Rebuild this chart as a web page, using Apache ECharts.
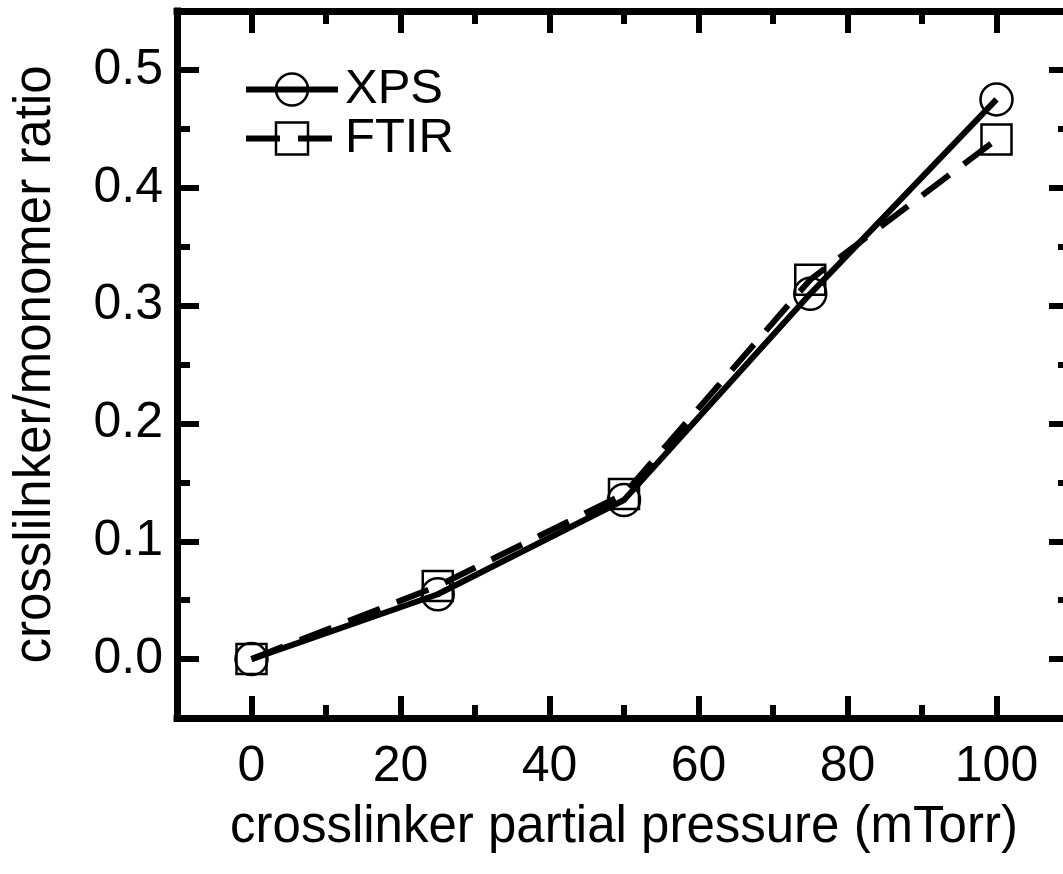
<!DOCTYPE html>
<html>
<head>
<meta charset="utf-8">
<script src="https://cdn.jsdelivr.net/npm/echarts@6/dist/echarts.min.js"></script>
<style>
html,body{margin:0;padding:0;background:#fff;}
#chart{width:1063px;height:874px;}
</style>
</head>
<body>
<div id="chart"></div>
<script>
// Data
const pressure = [0, 25, 50, 75, 100];
const xpsValues = [0.000, 0.055, 0.135, 0.310, 0.475];
const ftirValues = [0.000, 0.062, 0.140, 0.322, 0.441];
const xMajorTicks = [0, 20, 40, 60, 80, 100];
const xMinorTicks = [10, 30, 50, 70, 90];
const yMajorTicks = [0, 0.1, 0.2, 0.3, 0.4, 0.5];
const yMinorTicks = [0.05, 0.15, 0.25, 0.35, 0.45];
const xTitle = 'crosslinker partial pressure (mTorr)';
const yTitle = 'crosslilnker/monomer ratio';
const seriesNames = ['XPS', 'FTIR'];

const FONT = 'Liberation Sans, Arial, Helvetica, sans-serif';
const X_MIN = -10, X_MAX = 110, Y_MIN = -0.05, Y_MAX = 0.55;

function axisBase(extra) {
  return Object.assign({
    type: 'value',
    splitLine: { show: false },
    axisLine: { show: false, onZero: false },
    axisTick: { show: false },
    axisLabel: { show: false }
  }, extra);
}
function ticks(values, len) {
  return { show: true, inside: true, length: len, customValues: values,
           lineStyle: { color: '#000', width: 6 } };
}
const axisLineStyle = { show: true, onZero: false, lineStyle: { color: '#000', width: 7, cap: 'square' } };

const chart = echarts.init(document.getElementById('chart'), null, { renderer: 'canvas' });
chart.setOption({
  backgroundColor: '#fff',
  animation: false,
  grid: { left: 177, top: 11, width: 894, height: 707, containLabel: false, outerBoundsMode: 'none' },
  legend: {
    left: 238, top: 60, orient: 'vertical',
    itemWidth: 92, itemHeight: 40, itemGap: 0,
    data: seriesNames,
    lineStyle: { width: 'inherit' },
    itemStyle: { borderWidth: 'inherit' },
    textStyle: { fontFamily: FONT, fontSize: 49, color: '#000', padding: [0, 0, 0, 2] }
  },
  xAxis: [
    axisBase({ position: 'bottom', min: X_MIN, max: X_MAX,
      axisLine: axisLineStyle,
      axisTick: ticks(xMajorTicks, 22),
      axisLabel: { show: true, customValues: xMajorTicks, margin: 24,
                   fontFamily: FONT, fontSize: 50, color: '#000' },
      name: xTitle, nameLocation: 'middle', nameGap: 84,
      nameTextStyle: { fontFamily: FONT, fontSize: 51, color: '#000' } }),
    axisBase({ position: 'bottom', min: X_MIN, max: X_MAX, axisTick: ticks(xMinorTicks, 13) }),
    axisBase({ position: 'top', min: X_MIN, max: X_MAX, axisLine: axisLineStyle, axisTick: ticks(xMajorTicks, 22) }),
    axisBase({ position: 'top', min: X_MIN, max: X_MAX, axisTick: ticks(xMinorTicks, 13) })
  ],
  yAxis: [
    axisBase({ position: 'left', min: Y_MIN, max: Y_MAX,
      axisLine: axisLineStyle,
      axisTick: ticks(yMajorTicks, 22),
      axisLabel: { show: true, customValues: yMajorTicks, margin: 14,
                   formatter: v => v.toFixed(1),
                   fontFamily: FONT, fontSize: 50, color: '#000' },
      name: yTitle, nameLocation: 'middle', nameGap: 116, nameRotate: 90,
      nameTextStyle: { fontFamily: FONT, fontSize: 51, color: '#000' } }),
    axisBase({ position: 'left', min: Y_MIN, max: Y_MAX, axisTick: ticks(yMinorTicks, 13) }),
    axisBase({ position: 'right', min: Y_MIN, max: Y_MAX, axisLine: axisLineStyle, axisTick: ticks(yMajorTicks, 22) }),
    axisBase({ position: 'right', min: Y_MIN, max: Y_MAX, axisTick: ticks(yMinorTicks, 13) })
  ],
  series: [
    {
      name: seriesNames[0], type: 'line', xAxisIndex: 0, yAxisIndex: 0,
      data: pressure.map((x, i) => [x, xpsValues[i]]),
      symbol: 'circle', symbolSize: 32, showAllSymbol: true,
      lineStyle: { color: '#000', width: 6, type: 'solid' },
      itemStyle: { color: 'rgba(0,0,0,0)', borderColor: '#000', borderWidth: 2.5 },
      z: 3
    },
    {
      name: seriesNames[1], type: 'line', xAxisIndex: 0, yAxisIndex: 0,
      data: pressure.map((x, i) => [x, ftirValues[i]]),
      symbol: 'rect', symbolSize: 30, showAllSymbol: true,
      lineStyle: { color: '#000', width: 6, type: [34, 18] },
      itemStyle: { color: 'rgba(0,0,0,0)', borderColor: '#000', borderWidth: 2.5 },
      z: 2
    }
  ]
});
</script>
</body>
</html>
